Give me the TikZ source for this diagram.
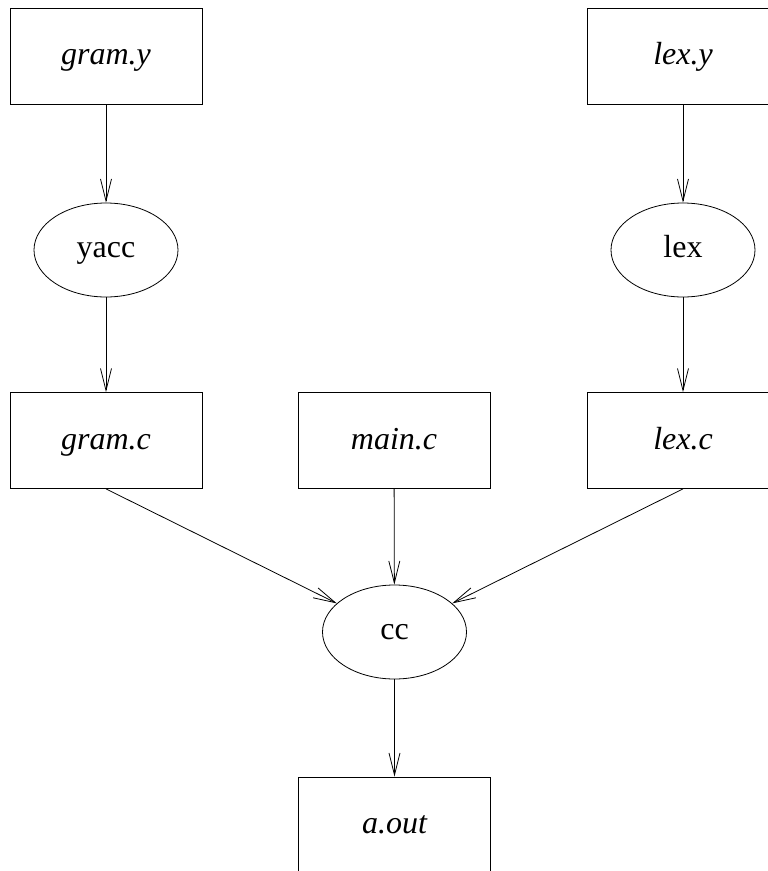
\documentclass[tikz,border=0pt]{standalone}
\usepackage{fontspec}
\setmainfont{Liberation Serif}
\usetikzlibrary{shapes.geometric,arrows.meta}
\begin{document}
\begin{tikzpicture}[x=1pt,y=-1pt,
  filebox/.style={draw,line width=0.8pt,minimum width=192pt,minimum height=96pt,inner sep=0pt,text height=23pt,text depth=6pt,font=\fontsize{32}{38}\selectfont\itshape},
  prog/.style={draw,ellipse,line width=0.8pt,minimum width=144pt,minimum height=94pt,inner sep=0pt,text height=21pt,text depth=6pt,font=\fontsize{32}{38}\selectfont},
  conn/.style={line width=0.8pt,-{Straight Barb[length=22pt,width=11pt,line width=0.8pt]}}]
\clip (0,0) rectangle (768,871);
\useasboundingbox (0,0) rectangle (768,871);
\node[filebox] (gramy) at (106,56) {gram.y};
\node[filebox] (lexy) at (683,56) {lex.y};
\node[prog] (yacc) at (106,250) {yacc};
\node[prog] (lex) at (683,250) {lex};
\node[filebox] (gramc) at (106,440.5) {gram.c};
\node[filebox] (mainc) at (394,440.5) {main.c};
\node[filebox] (lexc) at (683,440.5) {lex.c};
\node[prog] (cc) at (394.5,632) {cc};
\node[filebox] (aout) at (394.5,825) {a.out};
\draw[conn] (gramy) -- (yacc);
\draw[conn] (lexy) -- (lex);
\draw[conn] (yacc) -- (gramc);
\draw[conn] (lex) -- (lexc);
\draw[conn] (mainc) -- (cc);
\draw[conn] (gramc.south) -- (cc);
\draw[conn] (lexc.south) -- (cc);
\draw[conn] (cc) -- (aout);
\end{tikzpicture}
\end{document}
